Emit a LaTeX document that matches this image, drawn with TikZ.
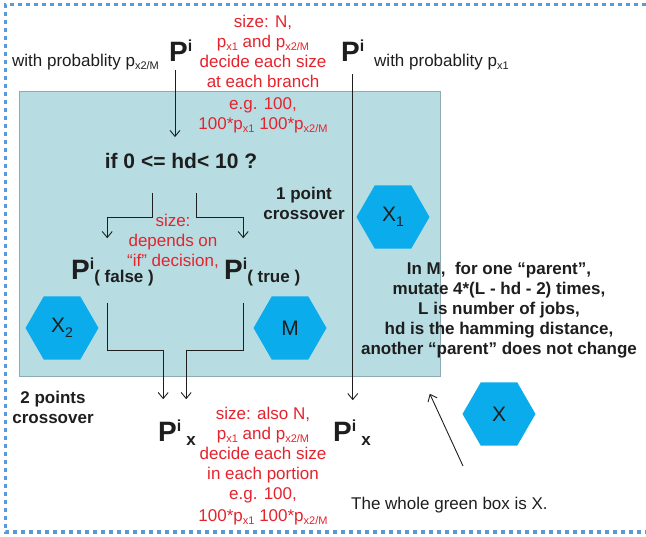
\documentclass[tikz,border=0pt]{standalone}
\usepackage{fontspec}
\setmainfont{Liberation Sans}
\usetikzlibrary{shapes.geometric,arrows.meta,calc}
\definecolor{boxfill}{RGB}{183,221,227}
\definecolor{boxedge}{RGB}{140,172,178}
\definecolor{hexblue}{RGB}{10,172,235}
\definecolor{redtxt}{RGB}{228,35,45}
\definecolor{dotblue}{RGB}{91,155,213}
\definecolor{darktxt}{RGB}{30,30,30}
\newcommand\lsub[1]{\raisebox{-3pt}{\fontsize{11}{11}\selectfont #1}}
\newcommand\bigP{{\fontsize{28}{28}\selectfont\bfseries P}\raisebox{10pt}{\fontsize{16}{16}\selectfont\bfseries i}}
\newcommand\hexsub[1]{\raisebox{-5pt}{\fontsize{14}{14}\selectfont #1}}
\tikzset{
  txt/.style={inner sep=0pt, text=darktxt, font=\fontsize{17}{20}\selectfont},
  redblock/.style={inner sep=0pt, text=redtxt, align=center, anchor=north, font=\fontsize{17}{20}\selectfont},
  boldblock/.style={inner sep=0pt, text=darktxt, align=center, anchor=north, font=\fontsize{17}{20}\selectfont\bfseries},
  hexnode/.style={regular polygon, regular polygon sides=6, fill=hexblue, draw=none, minimum size=73pt, inner sep=0pt, text=darktxt, font=\fontsize{21}{21}\selectfont},
  arr/.style={-{Straight Barb[length=6pt,width=10pt]}, line width=0.9pt, draw=darktxt},
  dotborder/.style={draw=dotblue, line width=3pt, dash pattern=on 4pt off 4pt}
}
\begin{document}
\begin{tikzpicture}[x=1pt,y=-1pt]
\useasboundingbox (0,0) rectangle (646,537);
% dotted frame (open on the right)
\draw[dotborder] (646,5) -- (5,5) -- (5,532) -- (646,532);
% green box
\node[draw=boxedge, fill=boxfill, line width=0.8pt, minimum width=421pt, minimum height=285pt, inner sep=0pt, anchor=north west] (gb) at (19,91) {};
% hexagons
\node[hexnode] (X1) at (393,217) {X\hexsub{1}};
\node[hexnode] (X2) at (62,328) {X\hexsub{2}};
\node[hexnode] (M) at (290,328) {M};
\node[hexnode] (X) at (499,414) {X};
% top texts
\node[txt, anchor=base west] (wpl) at (12,67) {with probablity p\lsub{x2/M}};
\node[txt, anchor=base west] (Pl) at (169,62) {\bigP};
\node[txt, anchor=base west] (Pr) at (341,62) {\bigP};
\node[txt, anchor=base west] (wpr) at (374,67) {with probablity p\lsub{x1}};
\node[redblock] (rtop) at (263,14.6) {size: N,\\ p\lsub{x1} and p\lsub{x2/M}\\ decide each size\\ at each branch\\[2pt] e.g. 100,\\ 100*p\lsub{x1} 100*p\lsub{x2/M}};
% inside box
\node[txt, font=\fontsize{21}{21}\selectfont\bfseries, anchor=base] (ifq) at (181,168.5) {if 0 <= hd< 10 ?};
\node[boldblock] (pt1) at (304,186.5) {1 point\\crossover};
\node[redblock] (rmid) at (173,213.5) {size:\\ depends on\\ “if” decision,};
\node[txt, anchor=base west] (Pf) at (71,280) {\bigP\raisebox{-3pt}{\bfseries ( false )}};
\node[txt, anchor=base west] (Pt) at (224,280) {\bigP\raisebox{-3pt}{\bfseries ( true )}};
\node[boldblock] (mut) at (499,261.5) {In M,\ \ for one “parent”,\\ mutate 4*(L - hd - 2) times,\\ L is number of jobs,\\ hd is the hamming distance,\\ another “parent” does not change};
% bottom texts
\node[boldblock] (pt2) at (53,390.5) {2 points\\crossover};
\node[txt, anchor=base west] (Pxl) at (158,442) {\bigP\hspace{5pt}\raisebox{-4pt}{\bfseries x}};
\node[txt, anchor=base west] (Pxr) at (333,442) {\bigP\hspace{5pt}\raisebox{-4pt}{\bfseries x}};
\node[redblock] (rbot) at (263,406.6) {size: also N,\\ p\lsub{x1} and p\lsub{x2/M}\\ decide each size\\ in each portion\\ e.g. 100,\\[2pt] 100*p\lsub{x1} 100*p\lsub{x2/M}};
\node[txt, anchor=base west] (whole) at (351,510) {The whole green box is X.};
\coordinate (wtail) at (463,466);
% connectors
\draw[arr, shorten <=8pt, shorten >=16pt] ([xshift=-6pt]ifq.north |- Pl.south) -- ([xshift=-6pt]ifq.north);
\draw[arr, shorten <=12pt, shorten >=20pt] (Pr.south) -- (Pr.south |- Pxr.north);
\draw[arr] ([xshift=-29pt,yshift=-24.5pt]ifq.south) -- ++(0,24) -| ([xshift=-5.3pt,yshift=20pt]Pf.north);
\draw[arr] ([xshift=15pt,yshift=-24.5pt]ifq.south) -- ++(0,24) -| ([xshift=-19pt,yshift=20pt]Pt.north);
\draw[arr] ([xshift=-5.3pt,yshift=-16pt]Pf.south) -- ++(0,48) -| ([xshift=-13.8pt,yshift=21pt]Pxl.north);
\draw[arr] ([xshift=-19pt,yshift=-16pt]Pt.south) -- ++(0,48) -| ([xshift=9.2pt,yshift=21pt]Pxl.north);
\draw[arr] (wtail) -- ([xshift=-11pt,yshift=-17pt]gb.south east);
\end{tikzpicture}
\end{document}
